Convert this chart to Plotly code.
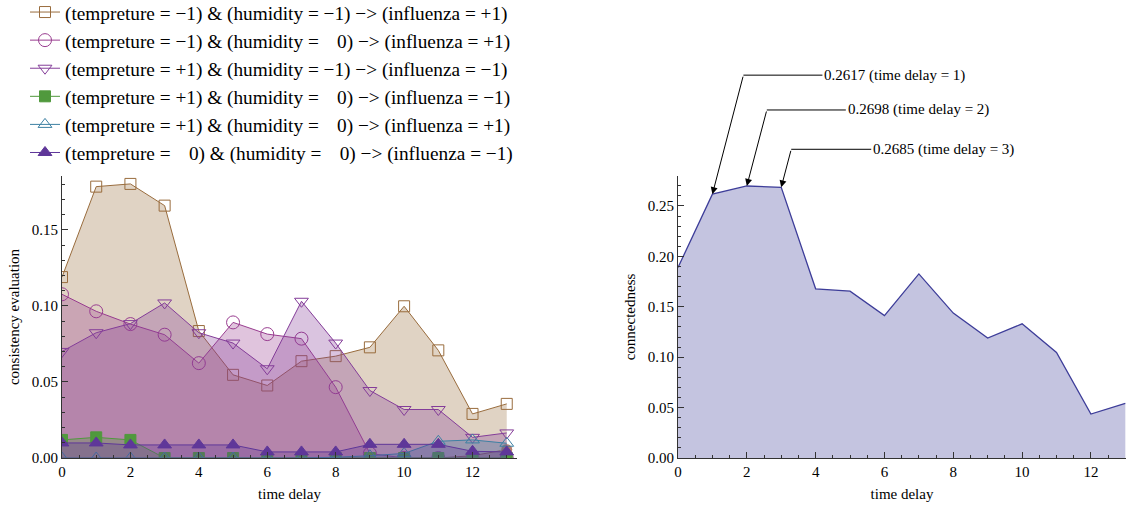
import plotly.graph_objects as go

W, H = 1132, 513

time_delay = list(range(14))

# left panel: consistency evaluation of rules
rule_labels = [
    "(tempreture = \u22121) & (humidity = \u22121) \u2212> (influenza = +1)",
    "(tempreture = \u22121) & (humidity = \u2002\u20090) \u2212> (influenza = +1)",
    "(tempreture = +1) & (humidity = \u22121) \u2212> (influenza = \u22121)",
    "(tempreture = +1) & (humidity = \u2002\u20090) \u2212> (influenza = \u22121)",
    "(tempreture = +1) & (humidity = \u2002\u20090) \u2212> (influenza = +1)",
    "(tempreture = \u2002\u20090) & (humidity = \u2002\u20090) \u2212> (influenza = \u22121)",
]
rule_tmm_hmm = [0.119, 0.1785, 0.1803, 0.166, 0.0835, 0.0547, 0.0477, 0.0637, 0.067, 0.0728, 0.0998, 0.0708, 0.029, 0.0356]
rule_tmm_h0 = [0.1077, 0.0965, 0.0881, 0.0811, 0.0624, 0.0892, 0.0815, 0.0785, 0.0466, 0.003, 0, 0, 0, 0]
rule_tp_hm = [0.0701, 0.0824, 0.0884, 0.102, 0.0824, 0.0756, 0.0587, 0.1031, 0.0756, 0.0444, 0.0319, 0.0319, 0.0136, 0.0165]
rule_tp_h0_neg = [0.0119, 0.0136, 0.0119, 0, 0, 0, 0, 0, 0, 0, 0, 0, 0, 0]
rule_tp_h0_pos = [0, 0, 0, 0, 0, 0, 0, 0, 0.0005, 0.0015, 0.003, 0.011, 0.0119, 0.0097]
rule_t0_h0 = [0.0099, 0.0099, 0.0086, 0.0086, 0.0086, 0.0086, 0.004, 0.004, 0.004, 0.009, 0.009, 0.009, 0.0044, 0.004]
rule_extra = [0, 0, 0, 0, 0, 0, 0, 0, 0, 0, 0, 0, 0.0015, 0.0055]

# right panel: connectedness
connectedness = [0.1889, 0.2617, 0.2698, 0.2685, 0.1678, 0.1655, 0.1413, 0.1826, 0.1437, 0.1189, 0.1331, 0.1047, 0.0436, 0.0542]
annotated_delays = [1, 2, 3]

series = [
    (rule_tmm_hmm, rule_labels[0], (153, 108, 61), "square-open", 11),
    (rule_tmm_h0, rule_labels[1], (153, 61, 144), "circle-open", 13),
    (rule_tp_hm, rule_labels[2], (132, 61, 153), "triangle-down-open", 12),
    (rule_tp_h0_neg, rule_labels[3], (80, 153, 61), "square", 11),
    (rule_tp_h0_pos, rule_labels[4], (61, 128, 163), "triangle-up-open", 12),
    (rule_t0_h0, rule_labels[5], (95, 55, 153), "triangle-up", 12),
]
extra_color = (153, 72, 50)

SERIF = "Liberation Serif"
fig = go.Figure()

# extra series (not in legend) drawn first, underneath
fig.add_trace(go.Scatter(
    x=time_delay, y=rule_extra, mode="lines+markers", showlegend=False,
    line=dict(color="rgb(%d,%d,%d)" % extra_color, width=1),
    marker=dict(symbol="circle", size=[12 if v > 0 else 0 for v in rule_extra],
                color="rgb(%d,%d,%d)" % extra_color),
    fill="tozeroy", fillcolor="rgba(%d,%d,%d,0.3)" % extra_color,
    xaxis="x", yaxis="y",
))

for vals, name, c, sym, sz in series:
    col = "rgb(%d,%d,%d)" % c
    fig.add_trace(go.Scatter(
        x=time_delay, y=vals, mode="lines+markers", showlegend=False,
        line=dict(color=col, width=1),
        marker=dict(symbol=sym, size=sz, color=col, line=dict(color=col, width=1)),
        fill="tozeroy", fillcolor="rgba(%d,%d,%d,0.3)" % c,
        xaxis="x", yaxis="y",
    ))

# legend entries (line + marker, as in the reference legend)
for vals, name, c, sym, sz in series:
    col = "rgb(%d,%d,%d)" % c
    fig.add_trace(go.Scatter(
        x=[None], y=[None], mode="lines+markers", name=name, showlegend=True,
        line=dict(color=col, width=1),
        marker=dict(symbol=sym, size=sz, color=col, line=dict(color=col, width=1)),
        xaxis="x", yaxis="y",
    ))

fig.add_trace(go.Scatter(
    x=time_delay, y=connectedness, mode="lines", showlegend=False,
    line=dict(color="rgb(61,61,153)", width=1.3),
    fill="tozeroy", fillcolor="rgba(61,61,153,0.3)",
    xaxis="x2", yaxis="y2",
))

# annotation geometry (pixel offsets)
arrow_off = {1: (31, -119), 2: (20, -76), 3: (10, -38)}
text_off = {1: 79, 2: 79, 3: 80}
for d in annotated_delays:
    v = connectedness[d]
    ax, ay = arrow_off[d]
    fig.add_annotation(x=d, y=v, xref="x2", yref="y2", text="", showarrow=True,
                       ax=ax, ay=ay, arrowhead=2, arrowsize=1.4, arrowwidth=1,
                       arrowcolor="black", standoff=0)
    fig.add_annotation(x=d, y=v, xref="x2", yref="y2", xshift=ax, yshift=-ay,
                       text="%.4f (time delay = %d)" % (v, d), showarrow=True,
                       ax=text_off[d], ay=0, arrowhead=0, arrowwidth=1, arrowcolor="black",
                       xanchor="left", yanchor="middle", standoff=0,
                       font=dict(family=SERIF, size=15, color="black"))

axis_common = dict(
    showline=True, linecolor="#333", linewidth=1, showgrid=False, zeroline=False,
    ticks="inside", ticklen=6, tickcolor="#333", tickwidth=1, automargin=False,
    tickfont=dict(family=SERIF, size=15, color="black"),
    title_font=dict(family=SERIF, size=15, color="black"),
)

y0 = (H - 458) / H
y1 = (H - 176) / H

fig.update_layout(
    width=W, height=H,
    margin=dict(l=0, r=0, t=0, b=0, autoexpand=False),
    paper_bgcolor="white", plot_bgcolor="white",
    showlegend=True,
    legend=dict(x=25 / W, y=1 + 7 / H, xanchor="left", yanchor="top",
                font=dict(family=SERIF, size=19.3, color="black"),
                bgcolor="rgba(0,0,0,0)"),
    xaxis=dict(domain=[62 / W, 517 / W], range=[0, 13.3], dtick=2, tick0=0,
               minor=dict(dtick=0.5, ticks="inside", ticklen=3, tickcolor="#333"),
               title=dict(text="time delay", standoff=9), anchor="y", **axis_common),
    yaxis=dict(domain=[y0, y1], range=[0, 0.1855], dtick=0.05, tickformat=".2f",
               minor=dict(dtick=0.01, ticks="inside", ticklen=3, tickcolor="#333"),
               title=dict(text="consistency evaluation", standoff=8), anchor="x", **axis_common),
    xaxis2=dict(domain=[678 / W, 1126 / W], range=[0, 13.02], dtick=2, tick0=0,
                minor=dict(dtick=0.5, ticks="inside", ticklen=3, tickcolor="#333"),
                title=dict(text="time delay", standoff=9), anchor="y2", **axis_common),
    yaxis2=dict(domain=[y0, y1], range=[0, 0.2797], dtick=0.05, tickformat=".2f",
                minor=dict(dtick=0.01, ticks="inside", ticklen=3, tickcolor="#333"),
                title=dict(text="connectedness", standoff=8), anchor="x2", **axis_common),
)

fig.write_html("out.html", config={"displayModeBar": False},
               post_script="document.body.style.margin='0px';")
